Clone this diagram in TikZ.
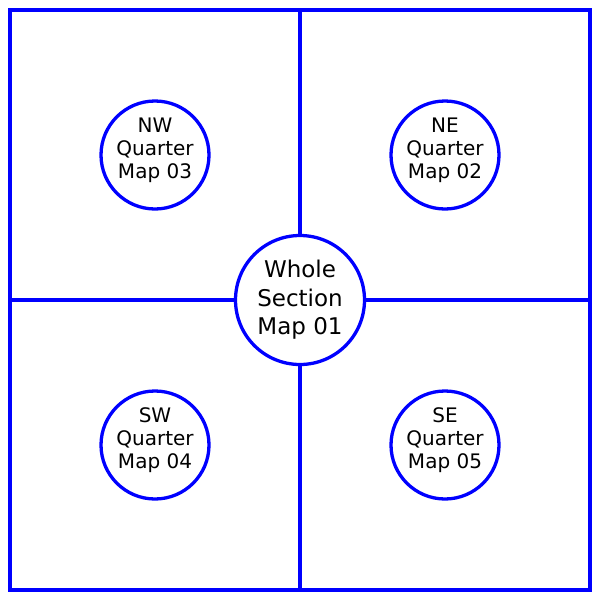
\documentclass[tikz,border=0pt]{standalone}
\usepackage{fontspec}
\setmainfont{DejaVu Sans}
\usetikzlibrary{positioning}

\tikzset{
  mapline/.style={draw=blue, line width=4pt},
  wholemap/.style={circle, draw=blue, line width=3.3pt, fill=white, minimum size=129pt,
    inner sep=0pt, align=center, font=\fontsize{23}{28.5}\selectfont},
  quartermap/.style={circle, draw=blue, line width=3.3pt, fill=white, minimum size=108pt,
    inner sep=0pt, text depth=14pt, align=center, font=\fontsize{20}{23}\selectfont}
}

\begin{document}
\begin{tikzpicture}[x=1pt, y=-1pt]
  \useasboundingbox (0,0) rectangle (600,600);
  \draw [mapline] (10,10) rectangle (590,590);

  \coordinate (top) at (300,10);
  \coordinate (bottom) at (300,590);
  \coordinate (left) at (10,300);
  \coordinate (right) at (590,300);

  \node [wholemap] (whole) at (300,300) {Whole\\Section\\Map 01};

  \node [quartermap] (nw) at (155,155) {NW\\Quarter\\Map 03};
  \node [quartermap] (ne) at (445,155) {NE\\Quarter\\Map 02};
  \node [quartermap] (sw) at (155,445) {SW\\Quarter\\Map 04};
  \node [quartermap] (se) at (445,445) {SE\\Quarter\\Map 05};

  \draw [mapline] (top) -- (whole);
  \draw [mapline] (bottom) -- (whole);
  \draw [mapline] (left) -- (whole);
  \draw [mapline] (right) -- (whole);
\end{tikzpicture}
\end{document}
